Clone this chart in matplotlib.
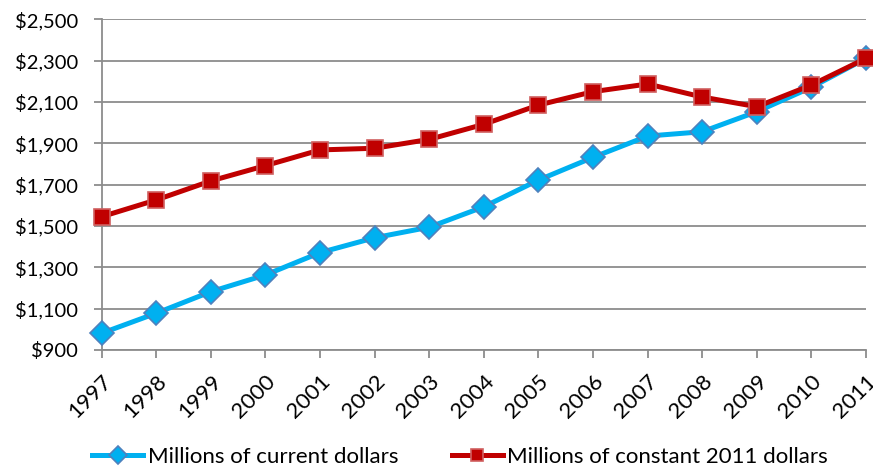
import matplotlib.pyplot as plt
from matplotlib.ticker import FuncFormatter

years = list(range(1997, 2012))
current_dollars = [981, 1078, 1182, 1263, 1371, 1443, 1494, 1593, 1722,
                   1832, 1935, 1956, 2053, 2171, 2311]
constant_2011 = [1545, 1626, 1718, 1792, 1868, 1876, 1919, 1992, 2085,
                 2150, 2187, 2124, 2077, 2182, 2311]
y_ticks = list(range(900, 2501, 200))

plt.rcParams['font.family'] = ['Lato', 'DejaVu Sans']

fig = plt.figure(figsize=(8.73, 4.71), dpi=100)
ax = fig.add_axes([0.1165, 0.257, 0.8755, 0.702])

ax.plot(years, current_dollars, color='#00B0F0', lw=3.6, marker='D', ms=12,
        mfc='#00B0F0', mec='#4F81BD', mew=1.2, clip_on=False, zorder=3,
        label='Millions of current dollars')
ax.plot(years, constant_2011, color='#C00000', lw=3.6, marker='s', ms=11.5,
        mfc='#C00000', mec='#D06060', mew=1.2, clip_on=False, zorder=4,
        label='Millions of constant 2011 dollars')

ax.set_xlim(years[0], years[-1])
ax.set_ylim(y_ticks[0], y_ticks[-1])
ax.set_yticks(y_ticks)
ax.yaxis.set_major_formatter(FuncFormatter(lambda v, p: '${:,.0f}'.format(v)))
ax.set_xticks(years)
ax.set_xticklabels([str(y) for y in years], rotation=45, ha='right', va='top',
                   rotation_mode='anchor')

ax.grid(axis='y', color='#8C8C8C', lw=1.3)
ax.set_axisbelow(True)
for s in ['top', 'right']:
    ax.spines[s].set_visible(False)
for s in ['left', 'bottom']:
    ax.spines[s].set_color('#8C8C8C')
    ax.spines[s].set_linewidth(1.3)
ax.tick_params(axis='both', colors='#8C8C8C', labelcolor='black',
               length=6, width=1.3, direction='out')
ax.tick_params(axis='y', pad=11, labelsize=14.5)
ax.tick_params(axis='x', pad=9, labelsize=16)

fig.legend(loc='center', bbox_to_anchor=(0.527, 0.03), ncol=2, frameon=False,
           fontsize=16, handlelength=2.3, handletextpad=0.2, columnspacing=2.4,
           markerscale=0.75)

fig.savefig('out.png', dpi=100)
